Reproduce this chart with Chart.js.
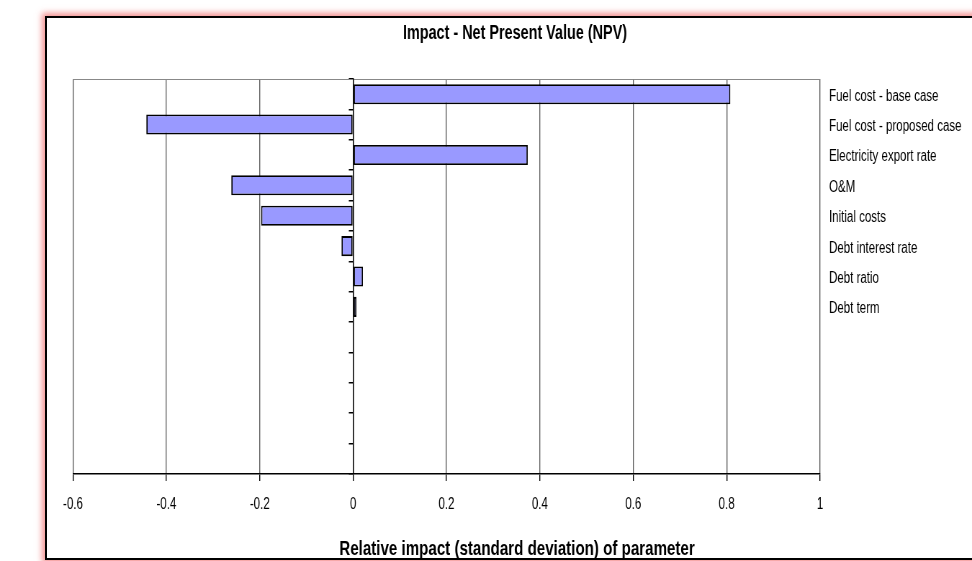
<!DOCTYPE html>
<html>
<head>
<meta charset="utf-8">
<script src="https://cdn.jsdelivr.net/npm/chart.js@4"></script>
<style>
  html, body { margin: 0; padding: 0; background: #fff; overflow: hidden; }
  #frame {
    position: absolute; left: 45px; top: 16px; width: 960px; height: 540px;
    border: 2px solid #000; background: #fff;
    box-shadow: 0 0 6px 3px rgba(240, 110, 110, 0.75);
  }
  #c { position: absolute; left: 0; top: 0; transform-origin: 0 0; }
</style>
</head>
<body>
<div id="frame"></div>
<canvas id="c"></canvas>
<script>
// Parameters ranked by their relative impact on NPV
const categories = [
  'Fuel cost - base case',
  'Fuel cost - proposed case',
  'Electricity export rate',
  'O&M',
  'Initial costs',
  'Debt interest rate',
  'Debt ratio',
  'Debt term',
  '', '', '', '', ''
];
const impacts = [0.808, -0.443, 0.374, -0.261, -0.197, -0.025, 0.021, 0.007, null, null, null, null, null];
const xMin = -0.6;
const xMax = 1;
const xStep = 0.2;
const chartTitle = 'Impact - Net Present Value (NPV)';
const axisTitle = 'Relative impact (standard deviation) of parameter';

// The chart is drawn wide and squeezed horizontally for a condensed look
const SX = 0.72;
const W = Math.round(972 / SX);
const H = 561;
const canvas = document.getElementById('c');
canvas.width = W;
canvas.height = H;
canvas.style.transform = 'scaleX(' + SX + ')';

const FONT = '"Liberation Sans", Arial, sans-serif';
Chart.defaults.font.family = FONT;
Chart.defaults.color = '#000';

const titles = {
  id: 'titles',
  afterDraw(chart) {
    const ctx = chart.ctx;
    ctx.save();
    ctx.fillStyle = '#000';
    ctx.textAlign = 'center';
    ctx.textBaseline = 'alphabetic';
    ctx.font = 'bold 20px ' + FONT;
    ctx.fillText(chartTitle, 515 / SX, 39);
    ctx.font = 'bold 21px ' + FONT;
    ctx.fillText(axisTitle, 517 / SX, 555);
    ctx.restore();
  }
};

new Chart(canvas, {
  type: 'bar',
  data: {
    labels: categories,
    datasets: [{
      data: impacts,
      yAxisID: 'y',
      backgroundColor: '#9999ff',
      borderColor: '#000',
      borderWidth: 1.8,
      borderSkipped: false,
      categoryPercentage: 1,
      barPercentage: 0.66
    }]
  },
  options: {
    indexAxis: 'y',
    responsive: false,
    animation: false,
    devicePixelRatio: 1,
    layout: { padding: { left: 73 / SX, top: 79, right: 0, bottom: 0 } },
    plugins: { legend: { display: false }, tooltip: { enabled: false }, title: { display: false } },
    scales: {
      x: {
        type: 'linear',
        position: 'bottom',
        min: xMin,
        max: xMax,
        ticks: {
          stepSize: xStep,
          font: { size: 16 },
          padding: 14,
          maxRotation: 0,
          callback: (v) => Number(v.toFixed(1)).toString()
        },
        grid: { color: '#5f5f5f', lineWidth: 1 / SX, tickColor: '#000', tickLength: 7, tickWidth: 1 / SX },
        border: { color: '#000', width: 1.5 },
        afterFit: (s) => { s.height = H - 474; }
      },
      xTop: {
        type: 'linear',
        position: 'top',
        min: xMin,
        max: xMax,
        ticks: { display: false },
        grid: { display: false },
        border: { display: true, color: '#888', width: 1 },
        afterFit: (s) => { s.height = 0; }
      },
      y: {
        type: 'category',
        position: 'right',
        offset: true,
        ticks: { font: { size: 16 }, padding: 9 / SX, autoSkip: false, labelOffset: 2 },
        grid: { display: false, drawTicks: false },
        border: { display: false },
        afterFit: (s) => { s.width = W - 820 / SX; }
      },
      yZero: {
        type: 'category',
        labels: categories,
        position: { x: 0 },
        offset: true,
        ticks: { display: false },
        grid: { drawOnChartArea: false, drawTicks: true, tickLength: 4 / SX, color: '#000', lineWidth: 1.5, offset: true },
        border: { display: true, color: '#000', width: 1 / SX }
      }
    }
  },
  plugins: [titles]
});
</script>
</body>
</html>
